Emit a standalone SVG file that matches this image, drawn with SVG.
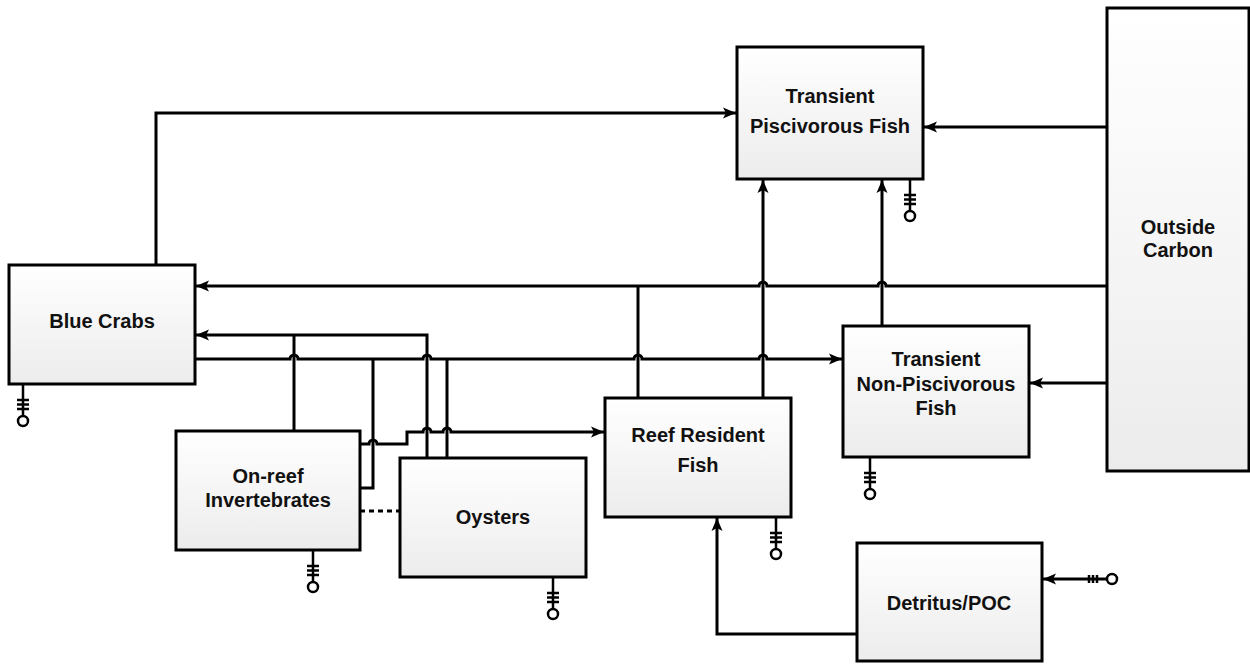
<svg xmlns="http://www.w3.org/2000/svg" xmlns:xlink="http://www.w3.org/1999/xlink" width="1250" height="664" viewBox="0 0 1250 664">
<style>
.box{stroke:#000;stroke-width:3;fill:url(#fillg)}
.ln{fill:none;stroke:#000;stroke-width:3}
.arr{marker-end:url(#ah)}
.dash{stroke-dasharray:5,4}
text{font-family:"Liberation Sans",Arial,sans-serif;font-weight:bold;font-size:20px;fill:#111;text-anchor:middle}
.g{fill:none;stroke:#000;stroke-width:2.5}
</style>
<defs>
<linearGradient id="fillg" x1="0" y1="0" x2="0" y2="1">
<stop offset="0" stop-color="#ffffff"/>
<stop offset="1" stop-color="#ececec"/>
</linearGradient>
<marker id="ah" markerUnits="userSpaceOnUse" markerWidth="14" markerHeight="12" refX="13" refY="6" orient="auto">
<path d="M0,0.5 L13,6 L0,11.5 L3,6 z" fill="#000"/>
</marker>
<g id="gnd">
<path class="g" d="M0,0 V32 M-6,16 H6 M-6,20.5 H6 M-6,25 H6"/>
<circle class="g" cx="0" cy="37" r="5" fill="#fff"/>
</g>
</defs>
<rect width="1250" height="664" fill="#fff"/>

<g id="connectors">
<path id="c-bc-tpf" class="ln arr" d="M156,265 V113 H736"/>
<path id="c-oc-tpf" class="ln arr" d="M1107,127 H924"/>
<path id="c-oc-bc" class="ln arr" d="M1107,286 H886 a4,4 0 0 0 -8,0 H767 a4,4 0 0 0 -8,0 H196"/>
<path id="c-rrf-bc" class="ln" d="M638,398 V286"/>
<path id="c-oc-tnpf" class="ln arr" d="M1107,383 H1030"/>
<path id="c-tnpf-tpf" class="ln arr" d="M882,326 V180"/>
<path id="c-rrf-tpf" class="ln arr" d="M763,398 V180"/>
<path id="c-bc-tnpf" class="ln arr" d="M195,359 H290 a4,4 0 0 1 8,0 H423 a4,4 0 0 1 8,0 H634 a4,4 0 0 1 8,0 H759 a4,4 0 0 1 8,0 H842"/>
<path id="c-inv-bc" class="ln" d="M294,431 V335"/>
<path id="c-oys-bc" class="ln arr" d="M427,458 V335 H196"/>
<path id="c-inv-tnpf" class="ln" d="M360,488 H373 V359"/>
<path id="c-oys-tnpf" class="ln" d="M447,458 V359"/>
<path id="c-inv-rrf" class="ln arr" d="M360,444 H369 a4,4 0 0 1 8,0 H407 V432 H423 a4,4 0 0 1 8,0 H443 a4,4 0 0 1 8,0 H604"/>
<path id="c-det-rrf" class="ln arr" d="M857,634 H717 V518"/>
<path id="c-inv-oys" class="ln dash" d="M360,511 H400"/>
<path id="c-in-det" class="ln arr" d="M1107,579 H1043"/>
<path class="g" d="M1089,575 V583 M1093,575 V583 M1097,575 V583"/>
<circle class="g" cx="1112" cy="579" r="5" fill="#fff"/>
</g>

<g id="n-bluecrabs">
<rect class="box" x="9" y="265" width="186" height="119"/>
<text x="102" y="328">Blue Crabs</text>
<use xlink:href="#gnd" x="23" y="384"/>
</g>
<g id="n-tpf">
<rect class="box" x="737" y="47" width="186" height="132"/>
<text x="830" y="103">Transient</text>
<text x="830" y="133">Piscivorous Fish</text>
<use xlink:href="#gnd" x="910" y="179"/>
</g>
<g id="n-outside">
<rect class="box" x="1107" y="8" width="142" height="463"/>
<text x="1178" y="234">Outside</text>
<text x="1178" y="257">Carbon</text>
</g>
<g id="n-tnpf">
<rect class="box" x="843" y="326" width="186" height="131"/>
<text x="936" y="366">Transient</text>
<text x="936" y="391">Non-Piscivorous</text>
<text x="936" y="415">Fish</text>
<use xlink:href="#gnd" x="870" y="457"/>
</g>
<g id="n-invert">
<rect class="box" x="176" y="431" width="184" height="119"/>
<text x="268" y="483">On-reef</text>
<text x="268" y="507">Invertebrates</text>
<use xlink:href="#gnd" x="313" y="550"/>
</g>
<g id="n-oysters">
<rect class="box" x="400" y="458" width="186" height="119"/>
<text x="493" y="524">Oysters</text>
<use xlink:href="#gnd" x="553" y="577"/>
</g>
<g id="n-rrf">
<rect class="box" x="605" y="398" width="186" height="119"/>
<text x="698" y="442">Reef Resident</text>
<text x="698" y="472">Fish</text>
<use xlink:href="#gnd" x="776" y="517"/>
</g>
<g id="n-detritus">
<rect class="box" x="857" y="543" width="185" height="118"/>
<text x="949" y="610">Detritus/POC</text>
</g>
</svg>
